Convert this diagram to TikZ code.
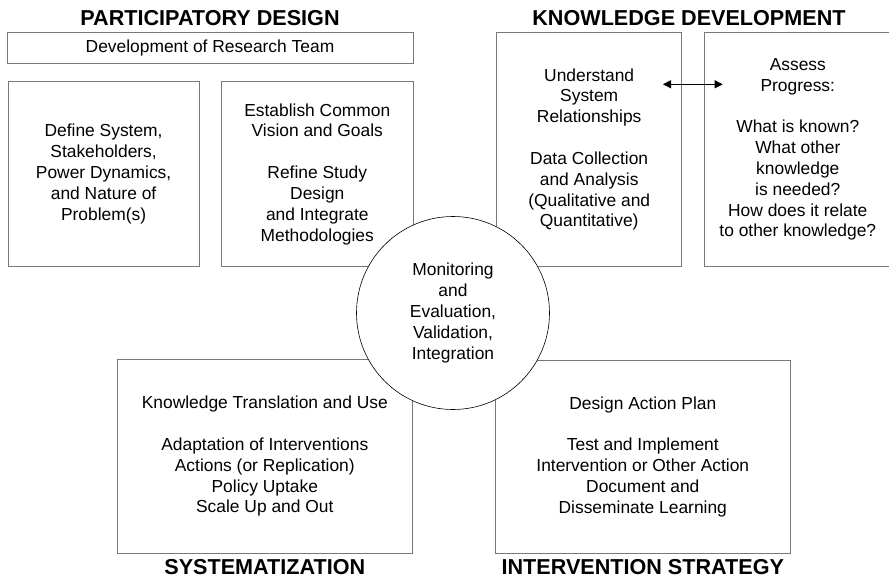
\documentclass[tikz,border=0pt]{standalone}
\usepackage{fontspec}
\setmainfont{Liberation Sans}
\usepackage{tikz}
\usetikzlibrary{shapes,arrows.meta,positioning}
\definecolor{edgegray}{RGB}{120, 120, 120}
\tikzstyle{box} = [rectangle, draw=edgegray, line width=0.8pt, fill=white, align=center, text=black, font=\fontsize{17.4}{20.8}\selectfont, inner sep=0pt, outer sep=0pt]
\tikzstyle{hub} = [circle, draw=black, line width=0.6pt, fill=white, align=center, font=\fontsize{17.4}{20.8}\selectfont, minimum size=193pt, inner sep=0pt]
\tikzstyle{head} = [draw=none, fill=none, text centered, font=\fontsize{21.6}{24}\selectfont\bfseries, inner sep=0pt]
\tikzstyle{tedge}  = [draw, line width=0.8pt, {Triangle[length=8pt,width=8pt]}-{Triangle[length=8pt,width=8pt]}]

\begin{document}
\begin{tikzpicture}[x=1pt, y=-1pt]
\useasboundingbox (0,0) rectangle (889,578);

% participatory design =============================
\node[box, minimum width=406pt, minimum height=31pt] (team) at (210,47.8) {Development of Research Team};
\node[head, above=6pt of team] (pd) {PARTICIPATORY DESIGN};
\node[box, minimum width=190.7pt, minimum height=185.4pt] (define) at (103.6,174) {Define System,\\Stakeholders,\\Power Dynamics,\\and Nature of\\Problem(s)};
\node[box, minimum width=191.3pt, minimum height=185.4pt, right=22.7pt of define] (vision) {Establish Common\\Vision and Goals\\[21pt]Refine Study\\Design\\and Integrate\\Methodologies};

% knowledge development
\node[box, minimum width=185pt, minimum height=234.4pt] (understand) at (589.2,149.5) {Understand\\System\\Relationships\\[21pt]Data Collection\\and Analysis\\(Qualitative and\\Quantitative)};
\node[box, minimum width=187pt, minimum height=234.4pt, right=22.6pt of understand] (assess) {Assess\\Progress:\\[21pt]What is known?\\What other\\knowledge\\is needed?\\How does it relate\\to other knowledge?};
\node[head, anchor=base] (kd) at (689,25.5) {KNOWLEDGE DEVELOPMENT};

% systematization and intervention strategy
\node[box, minimum width=295pt, minimum height=194pt] (transl) at (264.8,456.3) {Knowledge Translation and Use\\[21pt]Adaptation of Interventions\\Actions (or Replication)\\Policy Uptake\\Scale Up and Out};
\node[head, below=5.5pt of transl] (sys) {SYSTEMATIZATION};
\node[box, minimum width=295.7pt, minimum height=193.3pt] (action) at (642.8,456.7) {Design Action Plan\\[21pt]Test and Implement\\Intervention or Other Action\\Document and\\Disseminate Learning};
\node[head, below=5.5pt of action] (is) {INTERVENTION STRATEGY};

% centre
\node[hub] (monitor) at (453,313) {Monitoring\\and\\Evaluation,\\Validation,\\Integration};

% edges
\coordinate (kl) at (663,84.3);
\coordinate (kr) at (722.7,84.3);
\path[tedge] (kl) -- (kr);

\end{tikzpicture}
\end{document}
